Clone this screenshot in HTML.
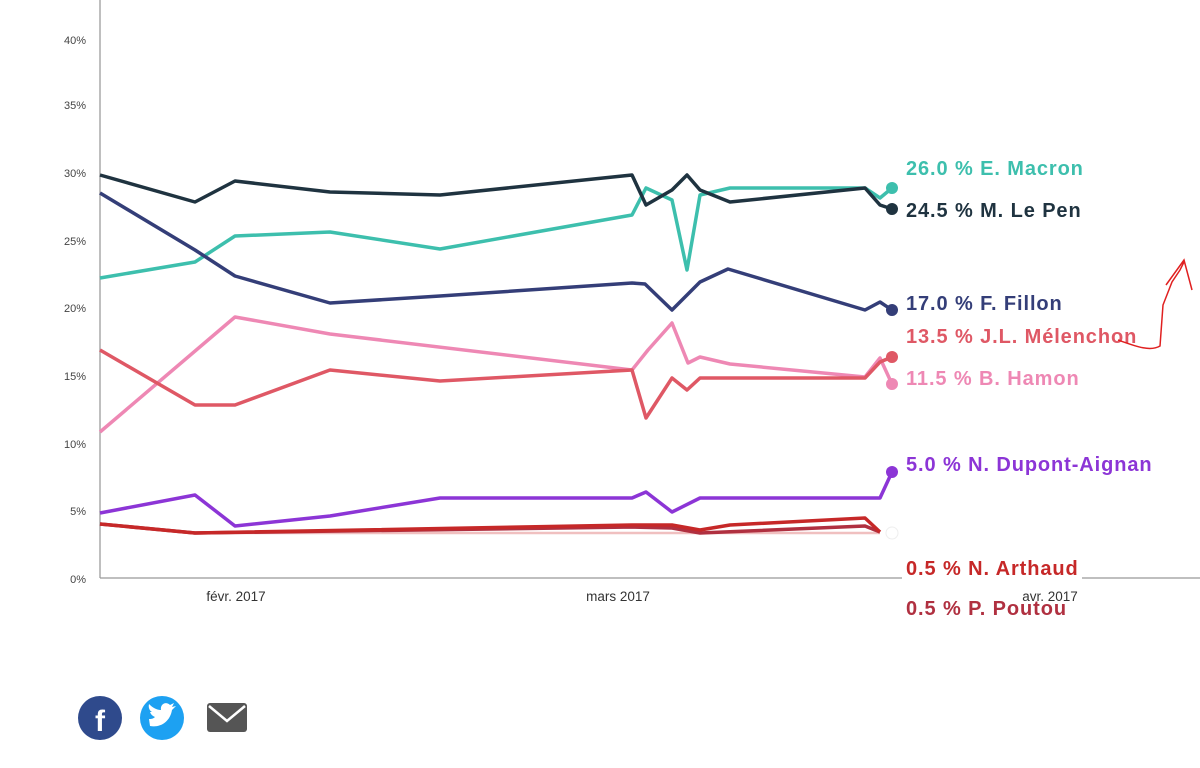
<!DOCTYPE html>
<html><head><meta charset="utf-8"><style>
body{margin:0;background:#fff;width:1200px;height:768px;overflow:hidden;font-family:"Liberation Sans",sans-serif}
</style></head><body>
<svg width="1200" height="768" xmlns="http://www.w3.org/2000/svg" style="position:absolute;left:0;top:0">
<g font-family="Liberation Sans, sans-serif" font-size="11" fill="#444" text-anchor="end">
<text x="86" y="44">40%</text><text x="86" y="109">35%</text><text x="86" y="177">30%</text>
<text x="86" y="245">25%</text><text x="86" y="312">20%</text><text x="86" y="380">15%</text>
<text x="86" y="448">10%</text><text x="86" y="515">5%</text><text x="86" y="583">0%</text>
</g>
<line x1="100" y1="0" x2="100" y2="578" stroke="#aaa" stroke-width="1.5"/>
<line x1="100" y1="578" x2="1200" y2="578" stroke="#999" stroke-width="1.2"/>
<g font-size="13.5" fill="#333" text-anchor="middle">
<text x="236" y="601">févr. 2017</text><text x="618" y="601">mars 2017</text><text x="1050" y="601">avr. 2017</text>
</g>
<g fill="none" stroke-width="3.5" stroke-linejoin="round">
<polyline stroke="#3dbfad" points="100,278 195,262 235,236 330,232 440,249 632,215 646,188 672,200 687,270 700,195 730,188 865,188 880,198 892,188"/>
<polyline stroke="#1f3340" points="100,175 195,202 235,181 330,192 440,195 632,175 646,205 672,190 687,175 700,190 730,202 865,188 880,205 892,209"/>
<polyline stroke="#343e78" points="100,193 195,250 235,276 330,303 440,296 632,283 645,284 672,310 700,282 728,269 865,310 880,302 892,310"/>
<polyline stroke="#ee88b4" points="100,432 235,317 330,334 632,370 648,350 672,323 688,363 700,357 730,364 865,377 880,358 892,384"/>
<polyline stroke="#df5865" points="100,350 195,405 235,405 330,370 440,381 632,370 646,418 672,378 687,390 700,378 865,378 880,362 892,357"/>
<polyline stroke="#8c35d6" points="100,513 195,495 235,526 330,516 440,498 632,498 646,492 672,512 700,498 880,498 892,472"/>
<polyline stroke="#f0c0c0" stroke-width="2.5" points="195,533 632,533 700,533 880,533"/>
<polyline stroke="#b03040" points="100,524 195,533 632,527 672,528 700,533 865,526 880,532"/>
<polyline stroke="#c62828" points="100,524 195,533 632,525 672,525 700,530 730,525 865,518 880,532"/>
</g>
<circle cx="892" cy="188" r="6" fill="#3dbfad"/>
<circle cx="892" cy="209" r="6" fill="#1f3340"/>
<circle cx="892" cy="310" r="6" fill="#343e78"/>
<circle cx="892" cy="357" r="6" fill="#df5865"/>
<circle cx="892" cy="384" r="6" fill="#ee88b4"/>
<circle cx="892" cy="472" r="6" fill="#8c35d6"/>
<circle cx="892" cy="533" r="6" fill="#fff" stroke="#eee"/>
<rect x="902" y="553" width="180" height="28" fill="#fff"/>
<g font-size="20" font-weight="bold" letter-spacing="0.9">
<text x="906" y="175" fill="#3dbfad">26.0 % E. Macron</text>
<text x="906" y="217" fill="#1f3340">24.5 % M. Le Pen</text>
<text x="906" y="310" fill="#343e78">17.0 % F. Fillon</text>
<text x="906" y="343" fill="#df5865">13.5 % J.L. Mélenchon</text>
<text x="906" y="385" fill="#ee88b4">11.5 % B. Hamon</text>
<text x="906" y="471" fill="#8c35d6">5.0 % N. Dupont-Aignan</text>
<text x="906" y="575" fill="#c62828">0.5 % N. Arthaud</text>
<text x="906" y="615" fill="#b03040">0.5 % P. Poutou</text>
</g>
<path d="M1118,340 C1135,346 1150,352 1160,346 L1163,305 L1172,282 L1180,270 L1184,262 M1166,285 L1184,260 L1192,290" fill="none" stroke="#e02020" stroke-width="1.5"/>
<circle cx="100" cy="718" r="22" fill="#2f4a8c"/>
<text x="100" y="731" font-size="30" font-weight="bold" fill="#fff" text-anchor="middle">f</text>
<circle cx="162" cy="718" r="22" fill="#1da1f2"/>
<path d="M150,726 C160,728 170,722 172,710 L176,706 L172,707 L174,703 L170,705 C166,701 160,704 161,710 C156,710 152,707 149,704 C148,708 150,711 152,712 L150,712 C151,715 153,716 155,717 C153,719 151,719 149,719 Z" fill="#fff"/>
<rect x="207" y="703" width="40" height="29" rx="3" fill="#555"/>
<path d="M209,706 L227,721 L245,706" fill="none" stroke="#fff" stroke-width="2.5"/>
</svg>
</body></html>
